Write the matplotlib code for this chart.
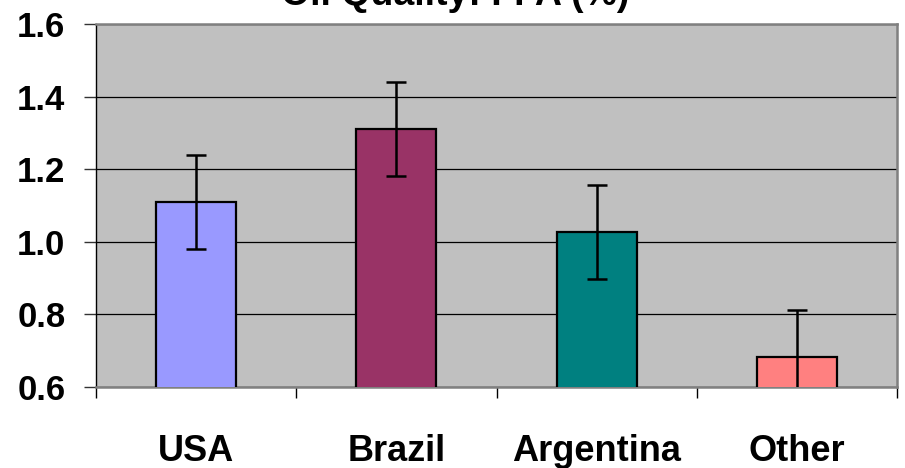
import numpy as np
import matplotlib.pyplot as plt
from matplotlib.ticker import FixedLocator

categories = ["USA", "Brazil", "Argentina", "Other"]
ffa = [1.11, 1.31, 1.027, 0.683]
ffa_err = [0.13, 0.13, 0.13, 0.13]
bar_colors = ["#9999FF", "#993366", "#008080", "#FF8080"]
yticks = [0.6, 0.8, 1.0, 1.2, 1.4, 1.6]

plt.rcParams['font.family'] = ['Liberation Sans', 'DejaVu Sans']

fig = plt.figure(figsize=(9.05, 4.68), dpi=100)
ax = fig.add_axes([96 / 905, 81 / 468, 801 / 905, 363 / 468])
ax.set_facecolor("#C0C0C0")

x = np.arange(len(categories))
ax.bar(x, ffa, width=0.4, bottom=0, color=bar_colors, edgecolor="black", linewidth=1.6, zorder=3)
ax.errorbar(x, ffa, yerr=ffa_err, fmt="none", ecolor="black", elinewidth=1.8,
            capsize=7, capthick=1.8, zorder=4)

ax.set_xlim(-0.5, len(categories) - 0.5)
ax.set_ylim(0.6, 1.6)
ax.set_yticks(yticks)
ax.set_yticklabels([f"{v:.1f}" for v in yticks], fontsize=25, fontweight="bold")
ax.yaxis.grid(True, color="black", linewidth=0.9, zorder=1)
ax.set_axisbelow(True)

ax.set_xticks(x)
ax.set_xticklabels(categories, fontsize=26, fontweight="bold")
ax.xaxis.set_minor_locator(FixedLocator(np.arange(-0.5, len(categories), 1.0)))
ax.tick_params(axis="x", which="major", length=0, pad=34)
ax.tick_params(axis="x", which="minor", length=8, width=1, color="black")
ax.tick_params(axis="y", length=9, width=1, color="#333333", pad=13)

for side in ["top", "right", "bottom"]:
    ax.spines[side].set_color("#808080")
    ax.spines[side].set_linewidth(1.8)
ax.spines["left"].set_color("black")
ax.spines["left"].set_linewidth(1)

fig.text(455 / 905, 1 - 5 / 468, "Oil Quality: FFA (%)", ha="center", va="baseline",
         fontsize=27, fontweight="bold")

fig.savefig("out.png", dpi=100)
